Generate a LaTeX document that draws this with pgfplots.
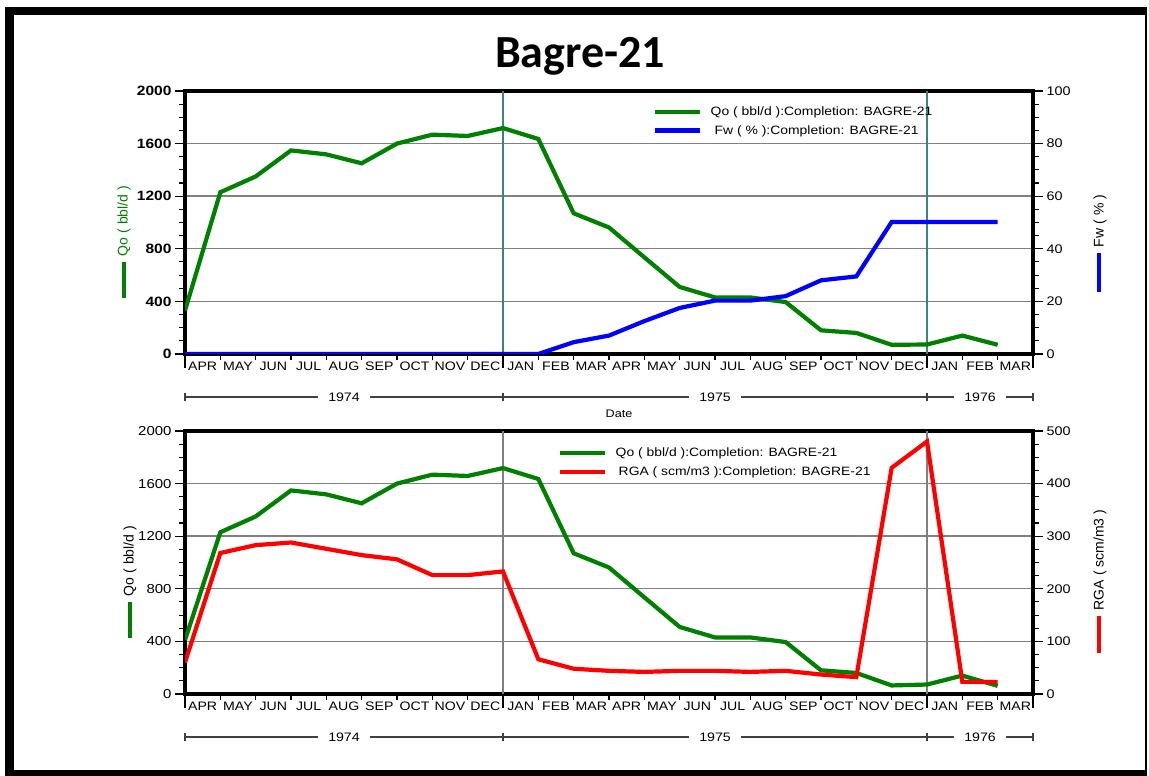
\documentclass[border=0pt]{standalone}
\usepackage{pgfplots}
\usepackage{pgfplotstable}
\pgfplotsset{compat=1.18}
\usepackage{fontspec}
\setmainfont{Liberation Sans}
\newfontfamily\wide[FakeStretch=1.15]{Liberation Sans}
\newfontfamily\titlefont{Carlito}

\definecolor{qgreen}{RGB}{0,128,0}
\definecolor{fblue}{RGB}{0,0,255}
\definecolor{rred}{RGB}{255,0,0}
\definecolor{gridgray}{RGB}{128,128,128}
\definecolor{yearteal}{RGB}{60,130,130}
\definecolor{yeargray}{RGB}{64,64,64}

\pgfplotstableread{
m qo fw
0 330 0
1 1230 0
2 1350 0
3 1548 0
4 1518 0
5 1450 0
6 1600 0
7 1668 0
8 1658 0
9 1718 0
10 1635 0
11 1070 4.5
12 962 7
13 735 12.5
14 510 17.5
15 430 20.3
16 430 20.3
17 395 22
18 180 28
19 160 29.5
20 70 50.2
21 72 50.2
22 140 50.2
23 70 50.2
}\toptable

\pgfplotstableread{
m qo rga
0 410 60
1 1230 268
2 1350 283
3 1548 288
4 1518 276
5 1450 264
6 1600 256
7 1668 226
8 1658 226
9 1718 233
10 1635 66
11 1070 48
12 962 44
13 735 42
14 510 44
15 430 44
16 430 42
17 395 44
18 180 37
19 160 32
20 65 430
21 72 480
22 140 23
23 62 23
}\bottable

\pgfplotsset{
  panel/.style={
    scale only axis, width=848pt, height=263pt,
    anchor=south west,
    xmin=0, xmax=24,
    tick align=outside,
    /pgf/number format/assume math mode=true,
    /pgf/number format/1000 sep={},
    every tick/.style={black, line width=1.1pt},
  },
  leftax/.style={panel,
    ymin=0, ymax=2000, ytick={0,400,...,2000}, minor y tick num=3,
    ymajorgrids, major grid style={gridgray, line width=1.4pt},
    axis line style={line width=4.5pt},
    xtick=\empty, ytick pos=left,
    major tick length=10pt, minor tick length=6pt,
  },
  rightax/.style={panel,
    axis y line*=right, axis x line=none,
    axis line style={line width=4.5pt},
    minor y tick num=3,
    major tick length=10pt, minor tick length=6pt,
    yticklabel style={font=\wide\fontsize{12.5}{14}\selectfont},
    legend cell align=left,
    legend image code/.code={\draw[##1] (0pt,0pt) -- (45pt,0pt); \path (52pt,0pt);},
  },
  monthax/.style={panel,
    ymin=0, ymax=1, axis y line=none, axis x line*=bottom,
    axis line style={draw=none},
    xtick={0,...,24}, x tick label as interval,
    xticklabels={APR,MAY,JUN,JUL,AUG,SEP,OCT,NOV,DEC,JAN,FEB,MAR,APR,MAY,JUN,JUL,AUG,SEP,OCT,NOV,DEC,JAN,FEB,MAR},
    major tick length=6pt,
    xticklabel style={font=\wide\fontsize{12.3}{14}\selectfont, inner sep=1.5pt},
  },
  longax/.style={panel,
    ymin=0, ymax=1, axis y line=none, axis x line*=bottom,
    axis line style={draw=none},
    xtick={0,9,21,24}, xticklabels={{},{},{},{}},
    major tick length=14pt,
  },
}

\begin{document}
\begin{tikzpicture}[x=1pt,y=1pt]
\useasboundingbox (0,0) rectangle (1149,776);
% frame
\fill[black] (5,0) rectangle (14,769);
\fill[black] (5,761) rectangle (1147,769);
\fill[black] (5,0) rectangle (1147,6);
\draw[black, line width=2pt] (1146,0) -- (1146,769);
% title
\node[anchor=base, font=\titlefont\bfseries\fontsize{46}{50}\selectfont] at (580,708) {Bagre-21};

% ---------- TOP PANEL ----------
\begin{axis}[leftax, at={(185pt,422pt)},
  yticklabel style={font=\wide\bfseries\fontsize{13.5}{15}\selectfont}]
\draw[yearteal, line width=1.2pt] (axis cs:9,0) -- (axis cs:9,2000);
\draw[yearteal, line width=1.2pt] (axis cs:21,0) -- (axis cs:21,2000);
\addplot[qgreen, line width=4.2pt] table[x=m, y=qo] {\toptable};
\end{axis}
\begin{axis}[rightax, at={(185pt,422pt)},
  ymin=0, ymax=100, ytick={0,20,...,100},
  legend style={at={(axis description cs:0.5475,0.955)}, anchor=north west,
    draw=none, fill=none, font=\wide\fontsize{12.1}{15}\selectfont, row sep=4pt}]
\addlegendimage{qgreen, line width=4.2pt}
\addlegendentry{Qo ( bbl/d ):Completion: BAGRE-21}
\addplot[fblue, line width=4.2pt] table[x=m, y=fw] {\toptable};
\addlegendentry{\hspace{4pt}Fw ( \% ):Completion: BAGRE-21}
\end{axis}
\begin{axis}[monthax, at={(185pt,422pt)}]
\end{axis}
\begin{axis}[longax, at={(185pt,422pt)}]
\end{axis}

% year row top
\begin{scope}[yeargray, line width=1.4pt]
\draw (185,379) -- (1033,379);
\foreach \xx in {185,503,927,1033} \draw (\xx,375) -- (\xx,383);
\end{scope}
\node[fill=white, inner xsep=10pt, inner ysep=1pt, font=\wide\fontsize{12.3}{14}\selectfont] at (344,379) {1974};
\node[fill=white, inner xsep=10pt, inner ysep=1pt, font=\wide\fontsize{12.3}{14}\selectfont] at (715,379) {1975};
\node[fill=white, inner xsep=10pt, inner ysep=1pt, font=\wide\fontsize{12.3}{14}\selectfont] at (980,379) {1976};
\node[font=\wide\fontsize{11}{13}\selectfont] at (619,362) {Date};

% axis titles top
\node[rotate=90, text=qgreen, font=\fontsize{14}{16}\selectfont] at (124,555) {Qo ( bbl/d )};
\draw[qgreen, line width=4.5pt] (124,514) -- (124,478);
\node[rotate=90, font=\fontsize{14}{16}\selectfont] at (1100,555) {Fw ( \% )};
\draw[fblue, line width=4.5pt] (1099,523) -- (1099,484);

% ---------- BOTTOM PANEL ----------
\begin{axis}[leftax, at={(185pt,82pt)},
  yticklabel style={font=\wide\fontsize{13}{15}\selectfont}]
\draw[gridgray, line width=1.2pt] (axis cs:9,0) -- (axis cs:9,2000);
\draw[gridgray, line width=1.2pt] (axis cs:21,0) -- (axis cs:21,2000);
\addplot[qgreen, line width=4.2pt] table[x=m, y=qo] {\bottable};
\end{axis}
\begin{axis}[rightax, at={(185pt,82pt)},
  ymin=0, ymax=500, ytick={0,100,...,500},
  legend style={at={(axis description cs:0.4355,0.952)}, anchor=north west,
    draw=none, fill=none, font=\wide\fontsize{12.1}{15}\selectfont, row sep=5pt}]
\addlegendimage{qgreen, line width=4.2pt}
\addlegendentry{Qo ( bbl/d ):Completion: BAGRE-21}
\addplot[rred, line width=4.2pt] table[x=m, y=rga] {\bottable};
\addlegendentry{\hspace{3pt}RGA ( scm/m3 ):Completion: BAGRE-21}
\end{axis}
\begin{axis}[monthax, at={(185pt,82pt)}]
\end{axis}
\begin{axis}[longax, at={(185pt,82pt)}]
\end{axis}

% year row bottom
\begin{scope}[yeargray, line width=1.4pt]
\draw (185,39) -- (1033,39);
\foreach \xx in {185,503,927,1033} \draw (\xx,35) -- (\xx,43);
\end{scope}
\node[fill=white, inner xsep=10pt, inner ysep=1pt, font=\wide\fontsize{12.3}{14}\selectfont] at (344,39) {1974};
\node[fill=white, inner xsep=10pt, inner ysep=1pt, font=\wide\fontsize{12.3}{14}\selectfont] at (715,39) {1975};
\node[fill=white, inner xsep=10pt, inner ysep=1pt, font=\wide\fontsize{12.3}{14}\selectfont] at (980,39) {1976};

% axis titles bottom
\node[rotate=90, font=\fontsize{14}{16}\selectfont] at (130,215) {Qo ( bbl/d )};
\draw[qgreen, line width=4.5pt] (130,174) -- (130,138);
\node[rotate=90, font=\fontsize{14}{16}\selectfont] at (1100,216) {RGA ( scm/m3 )};
\draw[rred, line width=4.5pt] (1099,160) -- (1099,123);
\end{tikzpicture}
\end{document}
